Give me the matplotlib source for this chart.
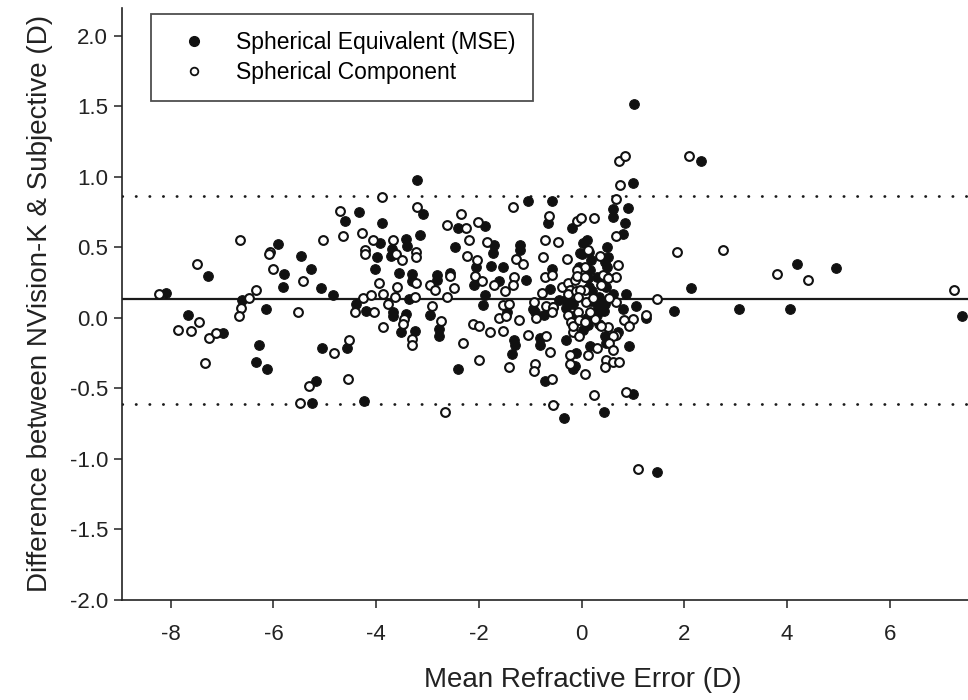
import numpy as np
import matplotlib
matplotlib.use("Agg")
import matplotlib.pyplot as plt
from matplotlib.lines import Line2D

plt.rcParams['font.family'] = ['Liberation Sans', 'DejaVu Sans']
plt.rcParams['axes.unicode_minus'] = False

# Spherical equivalent (MSE): mean refractive error vs difference (D)
mse_x = [-8.09, -7.28, -7.67, -6.99, -6.62, -6.15, -6.28, -6.35, -6.12, -5.92,
         -5.79, -5.82, -5.47, -5.27, -5.08, -4.85, -5.05, -5.17, -5.25, -4.60,
         -4.33, -4.56, -4.40, -4.19, -4.24,
         -3.20, -3.09, -3.88, -3.15, -3.93, -3.98, -3.70, -3.72, -3.42, -3.41,
         -4.03, -3.55, -3.31, -3.30, -3.37, -3.68, -3.67, -3.43, -3.51, -3.24,
         -2.81, -2.81, -2.57, -2.95, -2.77, -2.78, -2.40, -2.40, -2.46, -1.89,
         -2.05, -2.10, -1.89, -1.92, -1.71, -1.73, -1.77, -1.54, -1.61, -1.46,
         -1.32, -1.30, -1.36, -1.04, -0.57, -1.21, -1.20, -1.09, -0.95, -0.81,
         -0.81, -0.71, -0.65, -0.57, -0.62, -0.73, -0.91,
         -0.18, -0.04, -0.05, -0.44, -0.56, -0.30, -0.30, -0.31, -0.17, -0.12,
         -0.34,
         1.02, 1.00, 0.61, 0.91, 0.60, 0.85, 0.80, 0.03, 0.00, 0.50,
         0.51, 0.19, 0.17, 0.47, 0.21, 0.60, 0.86, 0.34, -0.17, 1.06,
         1.80, 1.25, 0.80, 0.71, 0.92, 0.34, 0.29, -0.17, 0.03, 0.16,
         0.45, 0.47, -0.14, 1.00, 0.43, 1.46,
         0.49, 0.29, 0.29, 0.30, 0.45, 0.47, 0.45, 0.43, 0.10, 0.15,
         0.12, 0.15, 0.18, 0.10, 0.12,
         2.32, 2.12, 3.06, 4.20, 4.06, 4.95, 7.40]
mse_y = [0.18, 0.30, 0.02, -0.11, 0.125, 0.06, -0.19, -0.31, -0.36, 0.525,
         0.31, 0.22, 0.44, 0.35, 0.21, 0.16, -0.21, -0.45, -0.60, 0.69,
         0.75, -0.215, 0.10, 0.047, -0.59,
         0.98, 0.735, 0.67, 0.59, 0.53, 0.43, 0.49, 0.44, 0.56, 0.51,
         0.345, 0.32, 0.31, 0.26, 0.135, 0.04, 0.01, 0.03, -0.10, -0.09,
         0.305, 0.27, 0.32, 0.02, -0.08, -0.13, -0.36, 0.64, 0.50, 0.65,
         0.36, 0.23, 0.16, 0.09, 0.52, 0.46, 0.37, 0.36, 0.26, 0.045,
         -0.16, -0.19, -0.255, 0.83, 0.83, 0.52, 0.48, 0.27, 0.06, -0.14,
         -0.19, -0.445, 0.67, 0.35, 0.205, 0.02, 0.04,
         0.64, 0.46, 0.36, 0.13, 0.08, 0.13, 0.07, -0.156, -0.36, -0.25,
         -0.71,
         1.52, 0.96, 0.77, 0.78, 0.714, 0.67, 0.595, 0.53, 0.45, 0.505,
         0.435, 0.41, 0.34, 0.22, 0.19, 0.17, 0.17, 0.15, 0.10, 0.085,
         0.05, 0.00, 0.06, -0.097, -0.20, -0.04, 0.045, 0.01, -0.085, -0.20,
         -0.13, -0.18, -0.34, -0.54, -0.665, -1.09,
         0.36, 0.29, 0.10, 0.02, 0.40, 0.30, 0.10, 0.05, 0.55, 0.47,
         0.28, 0.22, 0.12, 0.00, -0.05,
         1.11, 0.21, 0.06, 0.38, 0.066, 0.357, 0.014]

# Spherical component
sph_x = [-8.22, -7.49, -7.45, -7.86, -7.61, -7.26, -7.11, -7.34, -6.65, -6.48,
         -6.34, -6.64, -6.68, -6.07, -6.08, -6.01, -5.43, -5.04, -5.53, -4.82,
         -5.31, -5.49, -4.70, -4.64, -4.27, -4.21, -4.22, -4.53, -4.54, -4.42,
         -4.25,
         -3.89, -3.20, -4.06, -3.68, -3.62, -3.50, -3.23, -3.23, -3.95, -3.59,
         -3.22, -4.11, -3.87, -3.64, -3.25, -4.05, -3.77, -3.87, -3.46, -3.48,
         -3.30, -3.31, -2.96, -2.86, -2.57, -2.48, -2.63, -2.91, -2.73, -2.31,
         -2.66, -2.63, -2.26, -2.34, -2.19, -2.24, -2.01, -2.03, -2.07, -1.95,
         -2.11, -2.00, -1.78, -2.00, -1.84, -1.71, -1.50, -1.54, -1.41, -1.61,
         -1.48, -1.23, -1.53, -1.41, -1.33, -1.27, -1.15, -1.32, -1.34, -0.93,
         -0.88, -1.04, -0.90, -0.93, -0.70, -0.62, -0.58, -0.55, -0.76, -0.71,
         -0.64, -0.71, -0.58, -0.77, -0.69, -0.56,
         -0.09, -0.47, -0.29, -0.38, -0.27, -0.14, -0.23, -0.27, -0.12, -0.58,
         -0.27, -0.20, -0.17, -0.23, -0.23,
         0.72, 0.85, 0.74, 0.67, 0.67, -0.006, 0.23, 0.12, 0.36, 1.85,
         0.71, 0.66, 0.06, -0.10, -0.10, 0.06, 0.41, 0.51, 0.38, 0.06,
         -0.04, 0.67, 0.53, -0.07, 0.08, 0.22, 1.46, 1.26, 1.00, 0.82,
         0.92, 0.67, 0.60, 0.51, 0.38, 0.25, 0.16, -0.07, -0.17, -0.05,
         0.06, -0.05, 0.29, 0.12, 0.54, 0.61, 0.48, 0.60, 0.73, 0.45,
         0.06, 0.23, 0.87, 1.10,
         2.09, 2.76, 3.80, 4.41, 7.25]
sph_y = [0.168, 0.385, -0.03, -0.085, -0.09, -0.14, -0.11, -0.32, 0.55, 0.14,
         0.20, 0.07, 0.016, 0.47, 0.45, 0.35, 0.26, 0.55, 0.045, -0.25,
         -0.48, -0.60, 0.76, 0.58, 0.60, 0.48, 0.456, -0.156, -0.43, 0.04,
         0.14,
         0.856, 0.785, 0.55, 0.55, 0.45, 0.41, 0.47, 0.435, 0.25, 0.22,
         0.25, 0.165, 0.17, 0.145, 0.147, 0.04, 0.10, -0.066, -0.01, -0.04,
         -0.15, -0.19, 0.23, 0.20, 0.30, 0.215, 0.15, 0.085, -0.02, -0.18,
         -0.67, 0.66, 0.64, 0.74, 0.55, 0.44, 0.68, 0.41, 0.30, 0.265,
         -0.04, -0.06, -0.10, -0.30, 0.54, 0.23, 0.19, 0.09, 0.10, 0.002,
         0.01, -0.016, -0.09, -0.35, 0.785, 0.42, 0.38, 0.29, 0.23, 0.11,
         0.00, -0.12, -0.33, -0.38, -0.125, -0.24, -0.435, -0.62, 0.435, 0.55,
         0.72, 0.29, 0.305, 0.18, 0.087, 0.08,
         0.69, 0.535, 0.42, 0.22, 0.245, 0.27, 0.20, 0.17, 0.19, 0.04,
         0.02, -0.026, -0.097, -0.26, -0.33,
         1.11, 1.145, 0.945, 0.84, 0.58, 0.707, 0.71, 0.48, 0.44, 0.47,
         0.376, 0.29, 0.36, 0.34, 0.30, 0.29, 0.305, 0.28, 0.235, 0.20,
         0.20, 0.11, 0.14, 0.15, 0.116, 0.14, 0.135, 0.02, -0.01, -0.014,
         -0.057, -0.12, -0.13, -0.066, -0.06, -0.01, 0.04, 0.045, -0.06, -0.014,
         -0.026, -0.13, -0.215, -0.26, -0.18, -0.23, -0.30, -0.31, -0.315, -0.35,
         -0.40, -0.546, -0.527, -1.07,
         1.15, 0.48, 0.31, 0.27, 0.20]

mean_diff = 0.135
upper_loa = 0.865
lower_loa = -0.61

fig = plt.figure(figsize=(9.68, 7.0), dpi=100)
# axes run on past the right edge of the figure (x up to 9)
ax = fig.add_axes([0.126, 0.143, 0.9525, 0.846])

ax.axhline(mean_diff, color='#1a1a1a', lw=1.6, zorder=1)
for v in (upper_loa, lower_loa):
    ax.axhline(v, color='#1a1a1a', lw=2.0, linestyle=(0, (0.1, 4.8)),
               dash_capstyle='round', zorder=1)

ax.scatter(mse_x, mse_y, s=48, c='#111111', edgecolors='#111111',
           linewidths=0.8, zorder=3)
ax.scatter(sph_x, sph_y, s=40, facecolors='white', edgecolors='#111111',
           linewidths=1.5, zorder=4)

ax.set_xlim(-8.95, 9.0)
ax.set_ylim(-2.0, 2.2)
ax.set_xticks([-8, -6, -4, -2, 0, 2, 4, 6])
ax.set_yticks(np.arange(-2.0, 2.01, 0.5))
ax.set_yticklabels([f'{v:.1f}' for v in np.arange(-2.0, 2.01, 0.5)])

for side in ('top', 'right'):
    ax.spines[side].set_visible(False)
for side in ('left', 'bottom'):
    ax.spines[side].set_linewidth(1.2)
    ax.spines[side].set_color('#222222')

ax.tick_params(axis='x', direction='out', length=6, width=1.1,
               labelsize=16, pad=11, colors='#222222')
ax.tick_params(axis='y', direction='out', length=6, width=1.1,
               labelsize=16, pad=4, colors='#222222')

ax.set_xlabel('Mean Refractive Error (D)', fontsize=20, labelpad=16,
              color='#222222')
ax.set_ylabel('Difference between NVision-K & Subjective (D)', fontsize=20,
              labelpad=12, color='#222222')

handles = [
    Line2D([], [], marker='o', ls='none', ms=7, mfc='#111111', mec='#111111'),
    Line2D([], [], marker='o', ls='none', ms=5.5, mfc='white', mec='#111111',
           mew=1.3),
]
leg = ax.legend(handles, ['Spherical Equivalent (MSE)', 'Spherical Component'],
                loc='upper left', bbox_to_anchor=(0.0319, 0.99), fontsize=16.5,
                frameon=True, fancybox=False, borderpad=0.75,
                handletextpad=0.75, handlelength=2.2, labelspacing=0.3,
                borderaxespad=0)
leg.get_frame().set_edgecolor('#222222')
leg.get_frame().set_linewidth(1.3)

fig.savefig('out.png', dpi=100)
